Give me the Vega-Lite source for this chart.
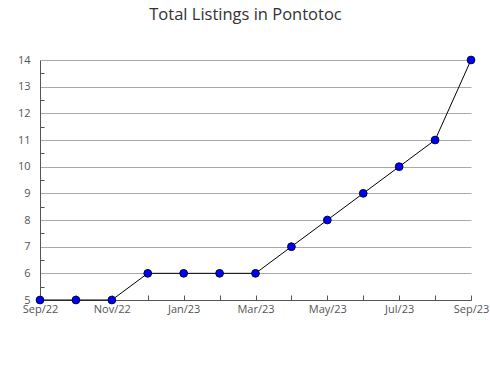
{
  "$schema": "https://vega.github.io/schema/vega-lite/v6.json",
  "autosize": "none",
  "padding": {"left": 40, "top": 60, "right": 19, "bottom": 80},
  "width": 431,
  "height": 240,
  "background": "white",
  "title": {"text": "Total Listings in Pontotoc", "font": "Open Sans", "fontSize": 16.5, "fontWeight": "normal", "color": "#333333", "offset": 31, "dx": -10},
  "config": {
    "view": {"stroke": null},
    "axis": {"labelFont": "Open Sans", "labelFontSize": 11, "labelColor": "#555555", "domainColor": "#555555", "tickColor": "#555555", "gridColor": "#aaaaaa", "labelFontWeight": "normal"}
  },
  "data": {"values": [
    {"month": "Sep/22", "listings": 5},
    {"month": "Oct/22", "listings": 5},
    {"month": "Nov/22", "listings": 5},
    {"month": "Dec/22", "listings": 6},
    {"month": "Jan/23", "listings": 6},
    {"month": "Feb/23", "listings": 6},
    {"month": "Mar/23", "listings": 6},
    {"month": "Apr/23", "listings": 7},
    {"month": "May/23", "listings": 8},
    {"month": "Jun/23", "listings": 9},
    {"month": "Jul/23", "listings": 10},
    {"month": "Aug/23", "listings": 11},
    {"month": "Sep/23", "listings": 14}
  ]},
  "resolve": {"axis": {"y": "independent"}},
  "layer": [
    {
      "mark": {"type": "line", "color": "black", "strokeWidth": 1},
      "encoding": {
        "x": {"field": "month", "type": "ordinal", "sort": null, "scale": {"type": "point", "padding": 0},
          "axis": {"title": null, "labelAngle": 0, "grid": false, "tickSize": -5, "labelPadding": 8, "domainColor": "#555555",
            "labelExpr": "indexof(['Sep/22','Nov/22','Jan/23','Mar/23','May/23','Jul/23','Sep/23'], datum.label) >= 0 ? datum.label : ''"}},
        "y": {"field": "listings", "type": "quantitative", "scale": {"domain": [5, 14], "nice": false, "zero": false},
          "axis": {"title": null, "orient": "left", "values": [5,6,7,8,9,10,11,12,13,14], "grid": true, "ticks": false, "labelPadding": 10}}
      }
    },
    {
      "mark": {"type": "point", "filled": true, "fill": "#0000ff", "stroke": "#000033", "strokeWidth": 1, "opacity": 1, "size": 60, "shape": "circle"},
      "encoding": {
        "x": {"field": "month", "type": "ordinal", "sort": null},
        "y": {"field": "listings", "type": "quantitative",
          "axis": {"title": null, "orient": "left", "values": [5.5,6.5,7.5,8.5,9.5,10.5,11.5,12.5,13.5], "labels": false, "grid": false, "domain": false, "tickSize": -4}}
      }
    }
  ]
}
